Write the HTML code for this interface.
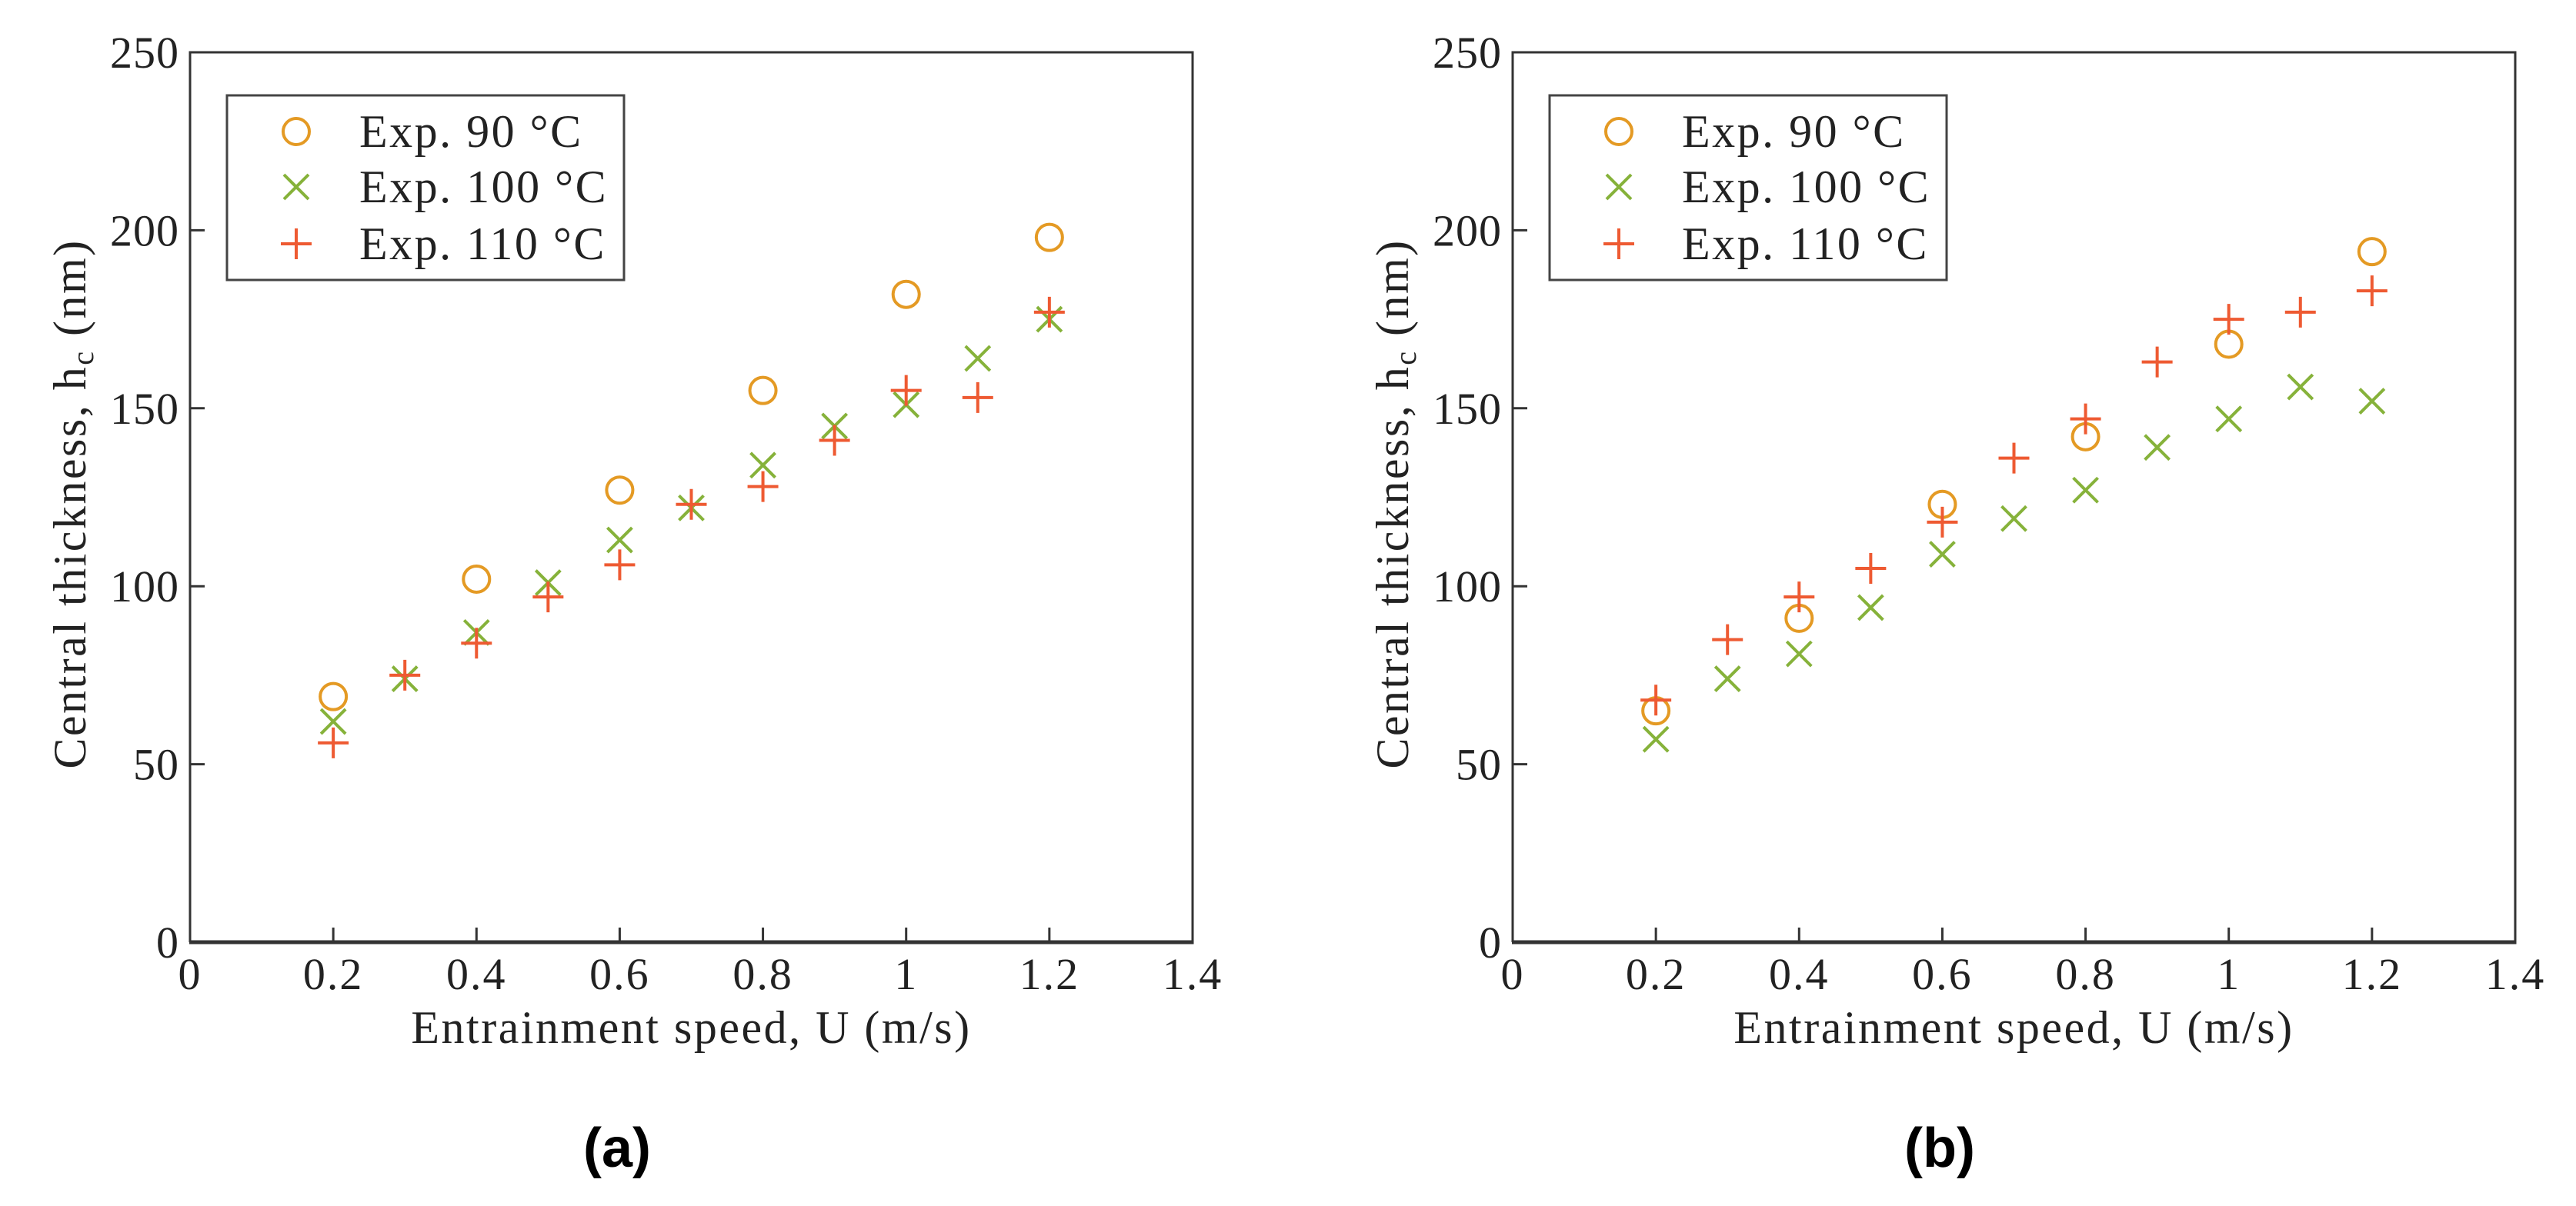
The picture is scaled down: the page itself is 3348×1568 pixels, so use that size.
<!DOCTYPE html>
<html><head><meta charset="utf-8"><style>
html,body{margin:0;padding:0;background:#fff;}
svg{display:block;}
text{font-family:"Liberation Serif",serif;fill:#222;}
.lab{font-family:"Liberation Sans",sans-serif;font-weight:bold;fill:#000;}
</style></head><body>
<svg id="fig" width="3348" height="1568" viewBox="0 0 3348 1568" xmlns="http://www.w3.org/2000/svg"></svg>
<script>
const xTicks = [0, 0.2, 0.4, 0.6, 0.8, 1, 1.2, 1.4];
const xTickLabels = ["0", "0.2", "0.4", "0.6", "0.8", "1", "1.2", "1.4"];
const yTicks = [0, 50, 100, 150, 200, 250];
const yTickLabels = ["0", "50", "100", "150", "200", "250"];
const xA90 = [0.2, 0.4, 0.6, 0.8, 1.0, 1.2];
const xAll = [0.2, 0.3, 0.4, 0.5, 0.6, 0.7, 0.8, 0.9, 1.0, 1.1, 1.2];
const a90 = [69, 102, 127, 155, 182, 198];
const a100 = [62, 74, 87, 101, 113, 122, 134, 145, 151, 164, 175];
const a110 = [56, 75, 84, 97, 106, 123, 128, 141, 155, 153, 177];
const b90 = [65, 91, 123, 142, 168, 194];
const b100 = [57, 74, 81, 94, 109, 119, 127, 139, 147, 156, 152];
const b110 = [68, 85, 97, 105, 118, 136, 147, 163, 175, 177, 183];
const legendLabels = ["Exp.  90 °C", "Exp.  100 °C", "Exp.  110 °C"];

const NS = "http://www.w3.org/2000/svg";
const svg = document.getElementById('fig');
const C90 = "#e49a24", C100 = "#86b23a", C110 = "#ee5a32";
function mk(tag, attrs, parent) {
  const e = document.createElementNS(NS, tag);
  for (const k in attrs) e.setAttribute(k, attrs[k]);
  (parent || svg).appendChild(e);
  return e;
}
function drawPanel(L, id, d90, d100, d110, letter) {
  const T = 68, B = 1225, R = L + 1303;
  const sx = v => L + (v / 1.4) * (R - L);
  const sy = v => B - (v / 250) * (B - T);
  const g = mk('g', {});
  
  
  const frame = mk('path', {d: `M${L},${B} L${L},${T} L${R},${T} L${R},${B}`, fill: 'none', stroke: '#333', 'stroke-width': 3}, g);
  
  
  const xa = mk('line', {x1: L - 1, x2: R + 1.5, y1: B, y2: B, stroke: '#333', 'stroke-width': 5}, g);
  
  
  xTicks.forEach((v, i) => {
    const x = sx(v);
    if (i > 0 && i < xTicks.length - 1) {
      const tk = mk('line', {x1: x, x2: x, y1: B, y2: B - 19, stroke: '#333', 'stroke-width': 3}, g);
      
      
    }
    const t = mk('text', {x: x, y: 1286, 'text-anchor': 'middle', 'font-size': 58, 'letter-spacing': 2}, g);
    t.textContent = xTickLabels[i];
    
    
  });
  yTicks.forEach((v, i) => {
    const y = sy(v);
    if (i > 0 && i < yTicks.length - 1) {
      const tk = mk('line', {x1: L, x2: L + 19, y1: y, y2: y, stroke: '#333', 'stroke-width': 3}, g);
      
      
    }
    const t = mk('text', {x: L - 14, y: y + 20, 'text-anchor': 'end', 'font-size': 58, 'letter-spacing': 1}, g);
    t.textContent = yTickLabels[i];
    
    
  });
  const xt = mk('text', {x: (L + R) / 2, y: 1356, 'text-anchor': 'middle', 'font-size': 60, 'letter-spacing': 2.5}, g);
  xt.textContent = 'Entrainment speed, U (m/s)';
  
  
  const yt = mk('text', {x: 0, y: 0, 'text-anchor': 'middle', 'font-size': 60, 'letter-spacing': 2.5, transform: `translate(${L - 136},655) rotate(-90)`}, g);
  yt.innerHTML = 'Central thickness, h<tspan font-size="40" dy="10">c</tspan><tspan dy="-10"> (nm)</tspan>';
  
  

  function circ(x, y, p) { return mk('circle', {cx: x, cy: y, r: 17, fill: 'none', stroke: C90, 'stroke-width': 4}, p); }
  function cross(x, y, p) { const s = 16; return mk('path', {d: `M${x-s},${y-s}L${x+s},${y+s}M${x-s},${y+s}L${x+s},${y-s}`, stroke: C100, 'stroke-width': 4, fill: 'none'}, p); }
  function plus(x, y, p) { const s = 20; return mk('path', {d: `M${x-s},${y}L${x+s},${y}M${x},${y-s}L${x},${y+s}`, stroke: C110, 'stroke-width': 4, fill: 'none'}, p); }

  const s1 = mk('g', {}, g);
  
  
  d90.forEach((v, i) => {
    const m = circ(sx(xA90[i]), sy(v), s1);
    
    
  });
  const s2 = mk('g', {}, g);
  
  
  d100.forEach((v, i) => {
    const m = cross(sx(xAll[i]), sy(v), s2);
    
    
  });
  const s3 = mk('g', {}, g);
  
  
  d110.forEach((v, i) => {
    const m = plus(sx(xAll[i]), sy(v), s3);
    
    
  });

  const lg = mk('g', {}, g);
  
  
  const lx = L + 48;
  mk('rect', {x: lx, y: 124, width: 516, height: 240, fill: '#fff', stroke: '#444', 'stroke-width': 3}, lg);
  const rows = [171, 243, 317];
  const fns = [circ, cross, plus];
  rows.forEach((ry, i) => {
    const m = fns[i](lx + 90, ry, lg);
    
    
    const t = mk('text', {x: lx + 172, y: ry + 20, 'font-size': 60, 'letter-spacing': 2.5}, lg);
    t.textContent = legendLabels[i];
    t.setAttribute('xml:space', 'preserve');
    
    
  });

  const pl = mk('text', {x: L + 555, y: 1517, 'text-anchor': 'middle', 'font-size': 72, class: 'lab'}, g);
  pl.textContent = letter;
  
  
}
drawPanel(247, 'a', a90, a100, a110, '(a)');
drawPanel(1966, 'b', b90, b100, b110, '(b)');
</script>
</body></html>
